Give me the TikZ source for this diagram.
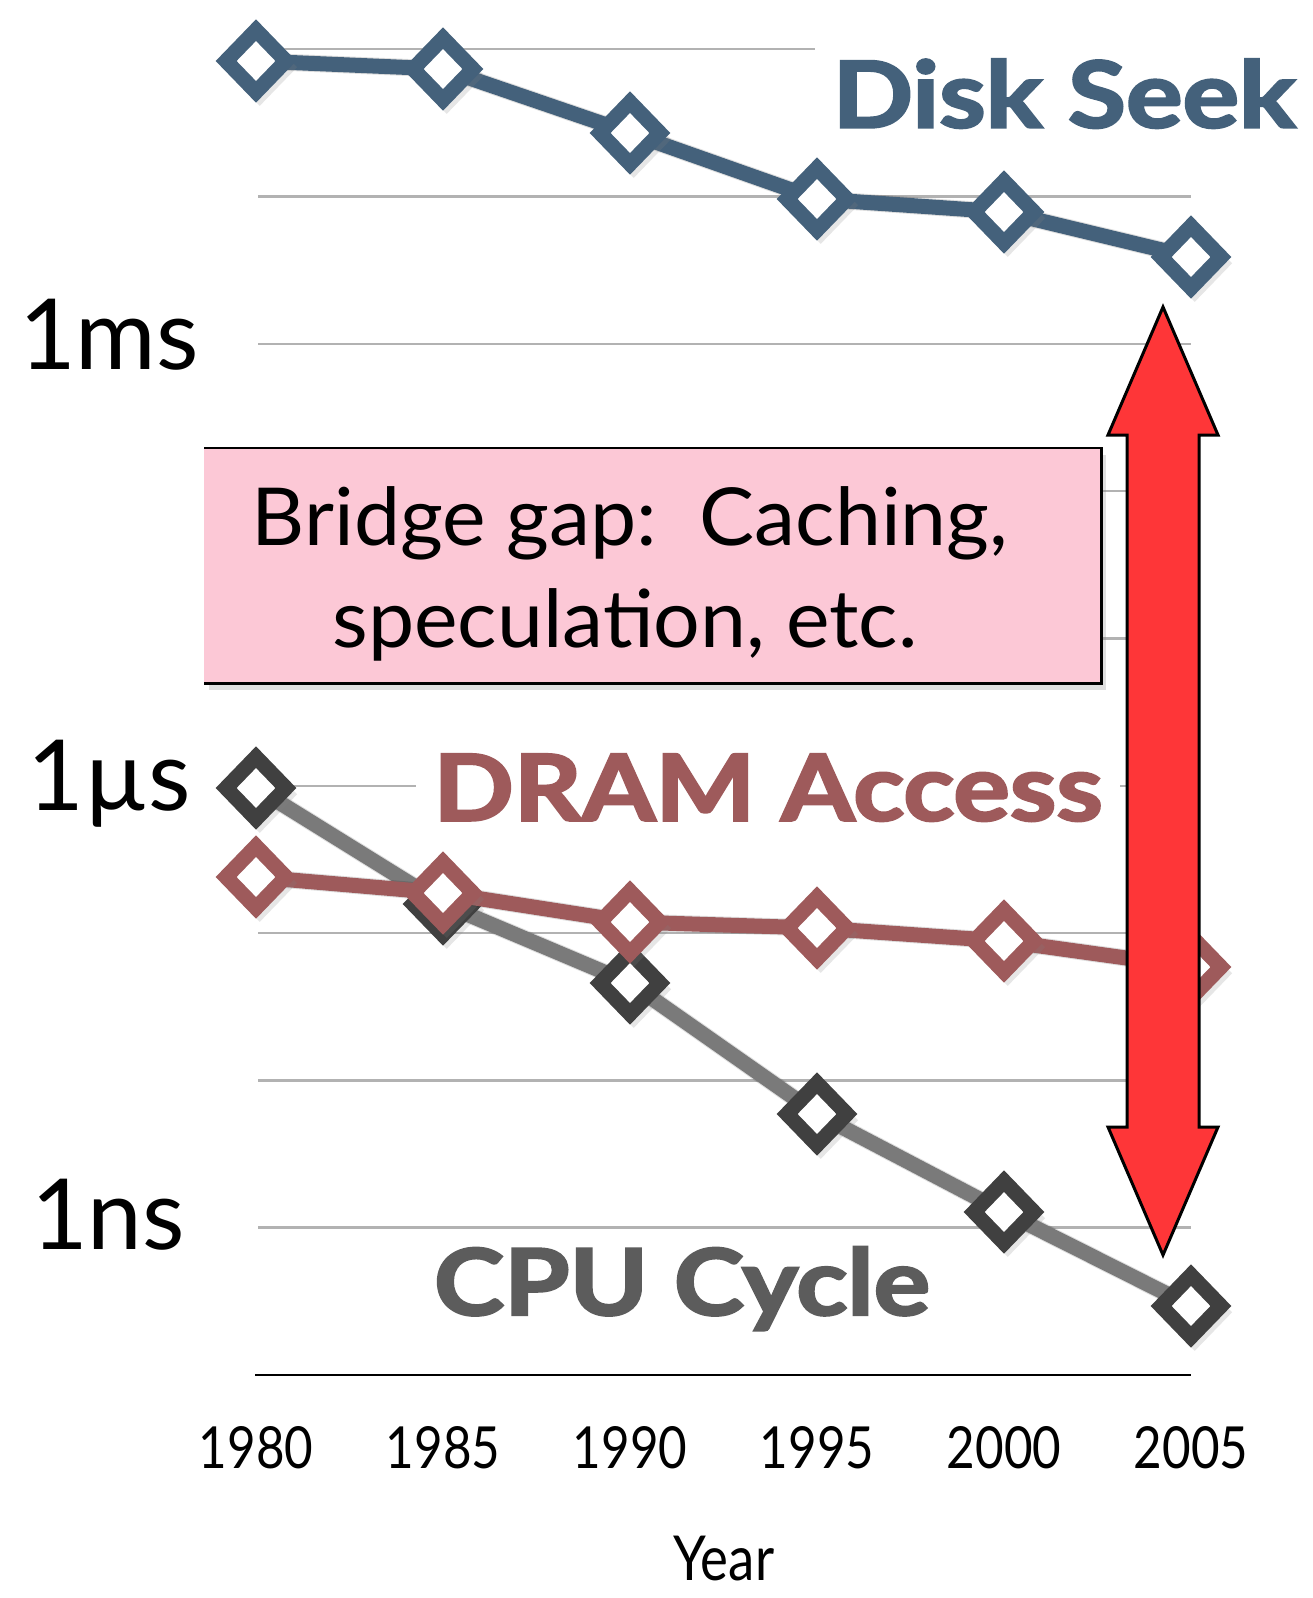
\documentclass[tikz,border=0pt]{standalone}
\usepackage{fontspec}
\setmainfont{Lato}
\newfontfamily\heavyfont{Lato}[BoldFeatures={FakeBold=2.5}]
\usetikzlibrary{shapes.geometric,shadows}

\definecolor{diskc}{HTML}{44617B}
\definecolor{dramc}{HTML}{9E5A5B}
\definecolor{cpuc}{HTML}{404040}
\definecolor{cpuline}{HTML}{7A7A7A}
\definecolor{cputext}{HTML}{5C5C5C}
\definecolor{gridc}{HTML}{B2B2B2}
\definecolor{boxpink}{HTML}{FCC8D6}
\definecolor{arrowred}{HTML}{FE3638}

\begin{document}
\begin{tikzpicture}[x=1pt,y=-1pt,
  gridrule/.style={draw=gridc, line width=2.5pt},
  axisrule/.style={draw=black, line width=2.5pt},
  trend/.style={draw=#1, line width=15pt, line join=round},
  trendshadow/.style={draw=black, opacity=0.13, line width=17pt, line join=round, shift={(3,5)}},
  ptmark/.style={diamond, aspect=1, draw=#1, fill=white, line width=15pt,
    minimum width=66pt, minimum height=68pt, inner sep=0pt,
    drop shadow={shadow scale=1.25, shadow xshift=3pt, shadow yshift=-5pt, opacity=0.2}},
  bigtitle/.style={font=\fontsize{92}{100}\heavyfont\bfseries, text=#1, fill=white,
    inner xsep=15pt, inner ysep=12pt, anchor=base, xscale=1.15},
  ticklabel/.style={font=\fontsize{58}{66}\selectfont, anchor=base, xscale=0.85},
  unitlabel/.style={font=\fontsize{98}{110}\selectfont, anchor=base},
  gaptext/.style={font=\fontsize{80}{90}\selectfont, anchor=base, xscale=1.03}
]
\useasboundingbox (0,0) rectangle (1312,1598);

% horizontal grid rules (one per decade)
\draw[gridrule] (258,49) -- (1191,49);
\foreach \gy in {196.6,344,491.2,638.5,785.8,933.1,1080.4,1227.7}
  \draw[gridrule] (258,\gy) -- (1191,\gy);
\draw[axisrule] (255,1375) -- (1191,1375);

% series titles, set on white so they interrupt the rules
\node[bigtitle=diskc] (disktitle) at (1064,127.5) {Disk Seek};
\node[bigtitle=dramc] (dramtitle) at (768,820.6) {DRAM Access};
\node[bigtitle=cputext] (cputitle) at (682,1315) {CPU Cycle};

% vertical axis units
\node[unitlabel] (ums) at (109,369) {1ms};
\node[unitlabel] (uus) at (109,810) {1µs};
\node[unitlabel] (uns) at (108,1249) {1ns};

% years
\foreach \yr/\xx in {1980/256,1985/443,1990/630,1995/817,2000/1004,2005/1191}
  \node[ticklabel] (yr\yr) at (\xx,1468) {\yr};
\node[ticklabel, font=\fontsize{62}{70}\selectfont] (yearlabel) at (724,1580) {Year};

% data points
\foreach \i/\xx/\yy in {1/256/61,2/443/69,3/630/133,4/817/199,5/1004/212,6/1191/257}
  \coordinate (d\i) at (\xx,\yy);
\foreach \i/\xx/\yy in {1/256/877,2/443/893,3/630/922,4/817/928,5/1004/941,6/1191/967}
  \coordinate (r\i) at (\xx,\yy);
\foreach \i/\xx/\yy in {1/256/788,2/443/904,3/630/983,4/817/1114,5/1004/1212,6/1191/1306}
  \coordinate (c\i) at (\xx,\yy);

% disk seek
\draw[trendshadow] (d1) -- (d2) -- (d3) -- (d4) -- (d5) -- (d6);
\draw[trend=diskc] (d1) -- (d2) -- (d3) -- (d4) -- (d5) -- (d6);
\foreach \i in {1,...,6} \node[ptmark=diskc] (dm\i) at (d\i) {};

% cpu cycle
\draw[trendshadow] (c1) -- (c2) -- (c3) -- (c4) -- (c5) -- (c6);
\draw[trend=cpuline] (c1) -- (c2) -- (c3) -- (c4) -- (c5) -- (c6);
\foreach \i in {1,...,6} \node[ptmark=cpuc] (cm\i) at (c\i) {};

% dram access
\draw[trendshadow] (r1) -- (r2) -- (r3) -- (r4) -- (r5) -- (r6);
\draw[trend=dramc] (r1) -- (r2) -- (r3) -- (r4) -- (r5) -- (r6);
\foreach \i in {1,...,6} \node[ptmark=dramc] (rm\i) at (r\i) {};

% callout box, open on its left side
\node[fill=boxpink, minimum width=897pt, minimum height=235pt, inner sep=0pt,
  anchor=north west,
  drop shadow={shadow xshift=5pt, shadow yshift=-7pt, opacity=0.25}] (gapbox) at (204,448) {};
\draw[line width=2.7pt] (gapbox.north west) -- (gapbox.north east)
  -- (gapbox.south east) -- (gapbox.south west);
\node[gaptext] (gapone) at (630,545) {Bridge gap:\ \ Caching,};
\node[gaptext] (gaptwo) at (625,647) {speculation, etc.};

% double-headed gap arrow
\draw[fill=arrowred, line width=3pt]
  (1163,307) -- (1218,435) -- (1199,435) -- (1199,1127) -- (1218,1127)
  -- (1163,1255) -- (1108,1127) -- (1127,1127) -- (1127,435) -- (1108,435) -- cycle;
\end{tikzpicture}
\end{document}
